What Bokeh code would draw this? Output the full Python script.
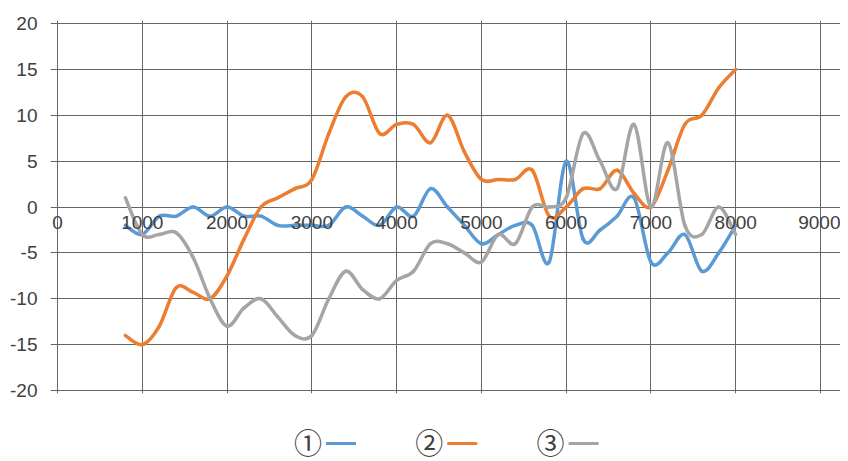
from bokeh.plotting import figure
from bokeh.layouts import column
from bokeh.models import FixedTicker, Range1d
from bokeh.core.properties import value
from bokeh.embed import file_html
from bokeh.resources import INLINE

# ---- data ----
x_values = [800, 1000, 1200, 1400, 1600, 1800, 2000, 2200, 2400, 2600,
            2800, 3000, 3200, 3400, 3600, 3800, 4000, 4200, 4400, 4600,
            4800, 5000, 5200, 5400, 5600, 5800, 6000, 6200, 6400, 6600,
            6800, 7000, 7200, 7400, 7600, 7800, 8000]
series_1 = [-2, -3, -1, -1, 0, -1, 0, -1, -1, -2,
            -2, -2, -2, 0, -1, -2, 0, -1, 2, 0,
            -2, -4, -3, -2, -2, -6, 5, -3.5, -2.5, -1,
            1, -6, -5, -3, -7, -5, -2]
series_2 = [-14, -15, -13, -8.8, -9.3, -10, -7.5, -3.5, 0, 1,
            2, 3, 8, 12, 12, 8, 9, 9, 7, 10,
            6, 3, 3, 3, 4, -1, 0, 2, 2, 4,
            1.5, 0, 4, 9, 10, 13, 15]
series_3 = [1, -3, -3, -2.8, -5.5, -10, -13, -11, -10, -12,
            -14, -14, -10, -7, -9, -10, -8, -7, -4, -4,
            -5, -6, -3, -4, 0, 0, 1, 8, 5, 2,
            9, 0, 7, -2, -3, 0, -3]
series_names = ["\u2460", "\u2461", "\u2462"]
series_colors = ["#5B9BD5", "#ED7D31", "#A5A5A5"]
x_ticks = [0, 1000, 2000, 3000, 4000, 5000, 6000, 7000, 8000, 9000]
x_tick_labels = ["0", "1000", "2000", "3000", "4000", "5000", "6000", "7000", "8000", "9000"]
y_ticks = [-20, -15, -10, -5, 0, 5, 10, 15, 20]
y_tick_labels = ["-20", "-15", "-10", "-5", "0", "5", "10", "15", "20"]
x_axis_at = 0
x_min, x_max = 0, 9000
y_min, y_max = -20, 20

GRID = "#666666"
TEXT = "#404040"

# ---- layout (pixels) ----
FIG_W = 840
MAIN_H = 420
FRAME_LEFT = 50          # frame starts a little left of x = 0 so the "0" label is not clipped
AXIS_LEFT_PX = 57        # where x = 0 sits
AXIS_RIGHT_PX = 820      # where x = 9000 sits
AXIS_TOP_PX = 23         # where y = 20 sits
AXIS_BOTTOM_PX = 390     # where y = -20 sits
EDGE_PAD_PX = 3          # keeps the outer grid lines inside the frame
px_per_x = (AXIS_RIGHT_PX - AXIS_LEFT_PX) / (x_max - x_min)
px_per_y = (AXIS_BOTTOM_PX - AXIS_TOP_PX) / (y_max - y_min)
x_start = x_min - (AXIS_LEFT_PX - FRAME_LEFT) / px_per_x
x_end = x_max + (FIG_W - AXIS_RIGHT_PX) / px_per_x
y_start = y_min - EDGE_PAD_PX / px_per_y
y_end = y_max + EDGE_PAD_PX / px_per_y


def smooth_segments(xs, ys):
    """Excel-like smoothed line: cubic Bezier segments through every data point."""
    n = len(xs)
    out = {k: [] for k in ("x0", "y0", "x1", "y1", "cx0", "cy0", "cx1", "cy1")}
    for i in range(n - 1):
        a = i - 1 if i > 0 else i
        d = i + 2 if i + 2 < n else i + 1
        out["x0"].append(xs[i]); out["y0"].append(ys[i])
        out["x1"].append(xs[i + 1]); out["y1"].append(ys[i + 1])
        out["cx0"].append(xs[i] + (xs[i + 1] - xs[a]) / 6.0)
        out["cy0"].append(ys[i] + (ys[i + 1] - ys[a]) / 6.0)
        out["cx1"].append(xs[i + 1] - (xs[d] - xs[i]) / 6.0)
        out["cy1"].append(ys[i + 1] - (ys[d] - ys[i]) / 6.0)
    return out


p = figure(width=FIG_W, height=MAIN_H, output_backend="svg", toolbar_location=None,
           x_range=Range1d(x_start, x_end), y_range=Range1d(y_start, y_end),
           min_border_left=FRAME_LEFT, min_border_right=0,
           min_border_top=AXIS_TOP_PX - EDGE_PAD_PX,
           min_border_bottom=MAIN_H - AXIS_BOTTOM_PX - EDGE_PAD_PX)
p.background_fill_color = "white"
p.border_fill_color = "white"
p.outline_line_color = None

for ax in (p.xaxis[0], p.yaxis[0]):
    ax.major_tick_line_color = None
    ax.minor_tick_line_color = None
    ax.axis_line_color = None
    ax.major_label_text_font = "Liberation Sans"
    ax.major_label_text_font_size = "19px"
    ax.major_label_text_color = TEXT

p.xaxis[0].ticker = FixedTicker(ticks=x_ticks)
p.xaxis[0].major_label_overrides = dict(zip(x_ticks, x_tick_labels))
p.xaxis[0].fixed_location = x_axis_at
p.xaxis[0].major_label_standoff = 3
p.yaxis[0].ticker = FixedTicker(ticks=y_ticks)
p.yaxis[0].major_label_overrides = dict(zip(y_ticks, y_tick_labels))
p.yaxis[0].major_label_standoff = 7

p.xgrid.ticker = FixedTicker(ticks=x_ticks)
p.ygrid.ticker = FixedTicker(ticks=y_ticks)
p.xgrid.bounds = (y_min, y_max)
p.ygrid.bounds = (x_min, x_max)
for g in (p.xgrid, p.ygrid):
    g.grid_line_color = GRID
    g.grid_line_width = 1

for ys, col in zip([series_1, series_2, series_3], series_colors):
    seg = smooth_segments(x_values, ys)
    p.bezier(x0=seg["x0"], y0=seg["y0"], x1=seg["x1"], y1=seg["y1"],
             cx0=seg["cx0"], cy0=seg["cy0"], cx1=seg["cx1"], cy1=seg["cy1"],
             line_color=col, line_width=3.5, line_cap="round")

# ---- legend strip: circled label first, then the coloured key line ----
LG_H = 41
LEGEND_CX0 = 307.5   # centre of the first circled label
LEGEND_STEP = 121.3  # distance between entries
KEY_OFFSET = 18      # label centre -> key line start
KEY_LEN = 30
LABEL_Y = 20
KEY_Y = 18

lg = figure(width=FIG_W, height=LG_H, output_backend="svg", toolbar_location=None,
            x_range=Range1d(FRAME_LEFT, FIG_W), y_range=Range1d(0, LG_H),
            min_border_left=FRAME_LEFT, min_border_right=0, min_border_top=0,
            min_border_bottom=0)
lg.axis.visible = False
lg.grid.visible = False
lg.outline_line_color = None
lg.background_fill_color = "white"
lg.border_fill_color = "white"

centres = [LEGEND_CX0 + i * LEGEND_STEP for i in range(len(series_names))]
lg.text(x=centres, y=[LABEL_Y] * len(centres), text=series_names,
        text_font=value("Noto Sans CJK JP"), text_font_size="28px",
        text_color=TEXT, text_align="center", text_baseline="middle")
lg.segment(x0=[c + KEY_OFFSET for c in centres], y0=[KEY_Y] * len(centres),
           x1=[c + KEY_OFFSET + KEY_LEN for c in centres], y1=[KEY_Y] * len(centres),
           line_color=series_colors, line_width=3)

open("out.html", "w").write(file_html(column(p, lg, spacing=0), INLINE))
